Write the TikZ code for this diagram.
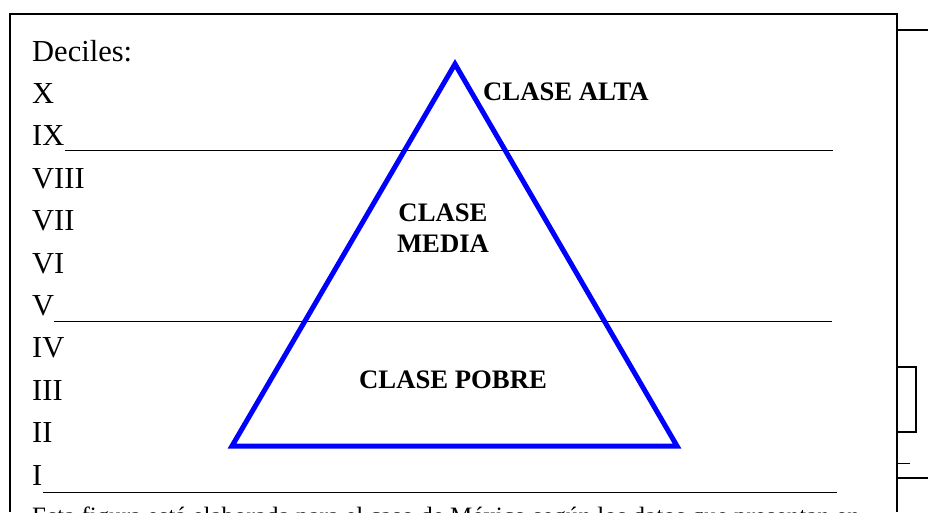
\documentclass[tikz,border=0pt]{standalone}
\usepackage{fontspec}
\setmainfont{Liberation Serif}
\tikzset{
  decil/.style={anchor=base west, inner sep=0pt, font=\fontsize{30.5}{36}\selectfont},
  clase/.style={anchor=base west, inner sep=0pt, font=\bfseries\fontsize{26.7}{31}\selectfont},
  raya/.style={line width=1pt},
  marco/.style={line width=2pt},
  piramide/.style={draw=blue, line width=5pt, line join=miter}
}
\begin{document}
\begin{tikzpicture}[x=1pt,y=-1pt]
  \useasboundingbox (0,0) rectangle (928,512);
  \clip (0,0) rectangle (928,512);
  % frame
  \draw[marco] (10,512) -- (10,14) -- (897,14) -- (897,512);
  \draw[marco] (897,30) -- (928,30);
  \draw[marco] (897,367) rectangle (916,432);
  \draw[raya] (897,463) -- (910,463);
  \draw[marco] (897,478) -- (928,478);
  % deciles
  \foreach \lab [count=\k from 0] in {Deciles:,X,IX,VIII,VII,VI,V,IV,III,II,I}
    \node[decil] (d\k) at (32,{61+42.4*\k}) {\lab};
  \draw[raya] (d2.east |- 0,150.7) -- (833,150.7);
  \draw[raya] (d6.east |- 0,321.7) -- (832,321.7);
  \draw[raya] (d10.east |- 0,492.7) -- (837,492.7);
  % pyramid
  \coordinate (apex) at (455,64);
  \coordinate (bl) at (232,446);
  \coordinate (br) at (677,446);
  \draw[piramide] (apex) -- (bl) -- (br) -- cycle;
  \node[clase] (alta) at (483,100) {CLASE ALTA};
  \node[clase, anchor=base] (media1) at (443,221) {CLASE};
  \node[clase, anchor=base] (media2) at (443,252) {MEDIA};
  \node[clase] (pobre) at (359,388) {CLASE POBRE};
  % caption
  \node[anchor=base west, inner sep=0pt, font=\fontsize{25}{30}\selectfont] (nota) at (32,524)
    {Esta figura está elaborada para el caso de México según los datos que presentan en};
\end{tikzpicture}
\end{document}
